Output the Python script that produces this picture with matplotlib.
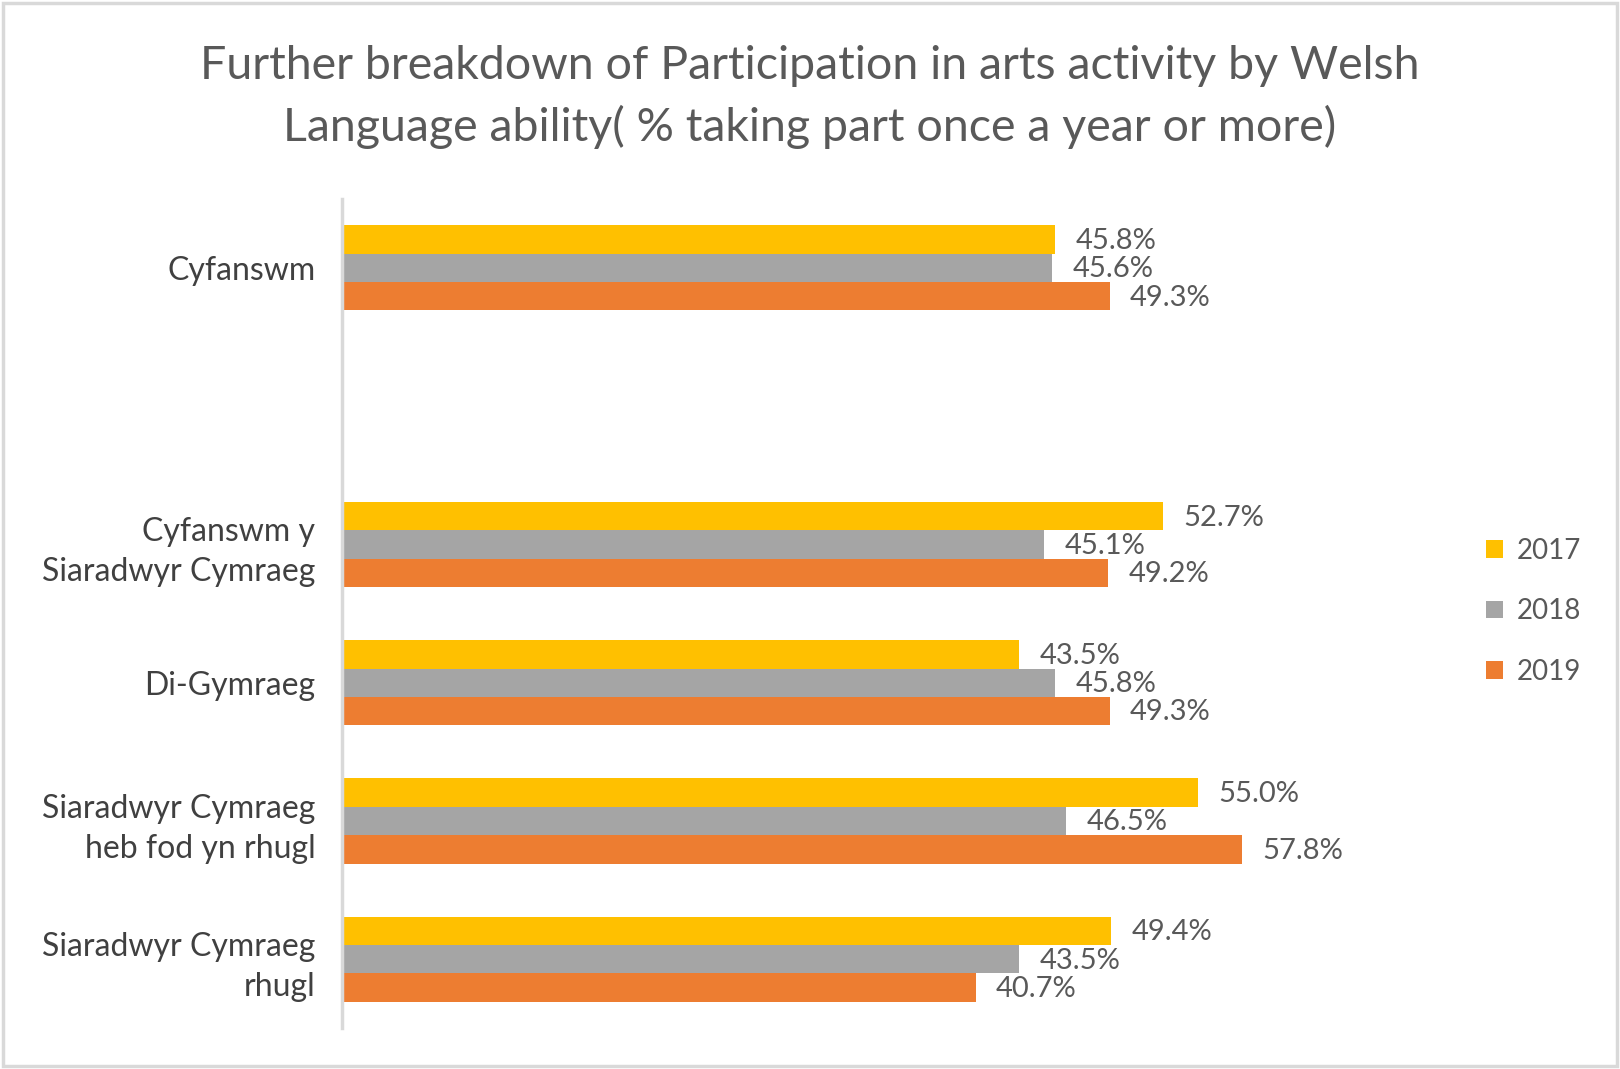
import numpy as np
import matplotlib.pyplot as plt
from matplotlib.patches import Patch, Rectangle

### data
categories = ['Siaradwyr Cymraeg\nrhugl', 'Siaradwyr Cymraeg\nheb fod yn rhugl', 'Di-Gymraeg',
              'Cyfanswm y\nSiaradwyr Cymraeg', '', 'Cyfanswm']
years  = ['2017', '2018', '2019']
v2017  = [49.4, 55.0, 43.5, 52.7, np.nan, 45.8]
v2018  = [43.5, 46.5, 45.8, 45.1, np.nan, 45.6]
v2019  = [40.7, 57.8, 49.3, 49.2, np.nan, 49.3]

colors = ['#FFC000', '#A5A5A5', '#ED7D31']
fam    = ['Lato', 'DejaVu Sans']

### plot
fig = plt.figure(figsize=(16.2, 10.69), dpi=100)
ax  = fig.add_axes([0.211, 0.038, 0.673, 0.776])

y  = np.arange(len(categories))
bh = 0.205
series = [v2017, v2018, v2019]
for i, vals in enumerate(series):
    pos = y + (1 - i) * bh
    ax.barh(pos, vals, height=bh, color=colors[i], label=years[i])
    for p, v in zip(pos, vals):
        if not np.isnan(v):
            ax.text(v + 1.3, p - 0.01, '{0:.1f}%'.format(v), va='center', ha='left',
                    fontsize=21, color='#595959', family=fam)

ax.set_xlim(0, 70)
ax.set_ylim(-0.5, 5.5)
ax.set_yticks(y)
ax.set_yticklabels(categories, fontsize=23, color='#404040', family=fam, ha='right',
                   linespacing=1.4)
ax.tick_params(axis='y', length=0, pad=19)
ax.set_xticks([])
for s in ['top', 'right', 'bottom']:
    ax.spines[s].set_visible(False)
ax.spines['left'].set_color('#D9D9D9')
ax.spines['left'].set_linewidth(2.5)

fig.text(0.5, 0.909, 'Further breakdown of Participation in arts activity by Welsh\nLanguage ability( % taking part once a year or more)',
         ha='center', va='center', fontsize=33.5, color='#595959', family=fam, linespacing=1.5)

handles = [Patch(facecolor=c) for c in colors]
fig.legend(handles, years, loc='center left', bbox_to_anchor=(0.902, 0.428), frameon=False,
           prop={'family': fam, 'size': 20}, labelcolor='#595959', handlelength=0.6,
           handleheight=0.6, handletextpad=0.5, labelspacing=1.24)

fig.patches.append(Rectangle((0.002, 0.003), 0.996, 0.994, transform=fig.transFigure,
                             fill=False, edgecolor='#D9D9D9', linewidth=2.5))

fig.savefig('out.png', dpi=100)
